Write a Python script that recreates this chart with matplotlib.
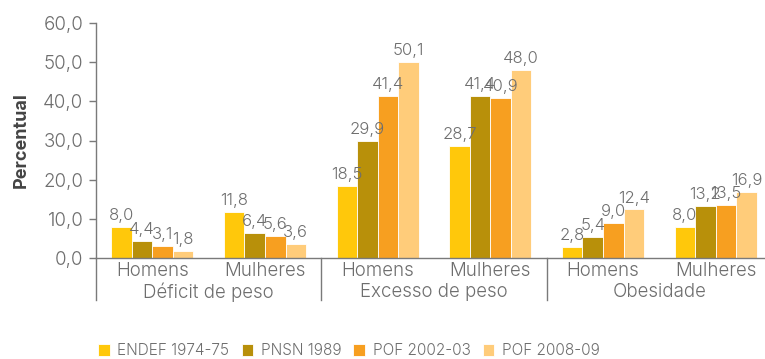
import matplotlib.pyplot as plt
import numpy as np

plt.rcParams['font.family'] = ['Inter', 'DejaVu Sans']
plt.rcParams['font.weight'] = 300

# Estado nutricional por sexo e pesquisa
indicadores = ['Déficit de peso', 'Excesso de peso', 'Obesidade']
sexos = ['Homens', 'Mulheres']
pesquisas = ['ENDEF 1974-75', 'PNSN 1989', 'POF 2002-03', 'POF 2008-09']
endef = [8.0, 11.8, 18.5, 28.7, 2.8, 8.0]
pnsn = [4.4, 6.4, 29.9, 41.4, 5.4, 13.2]
pof_2002 = [3.1, 5.6, 41.4, 40.9, 9.0, 13.5]
pof_2008 = [1.8, 3.6, 50.1, 48.0, 12.4, 16.9]
cores = ['#FFC80B', '#B8900A', '#F79F20', '#FFCC7A']

texto = '#6e6e6e'
linha = '#7a7a7a'

fig = plt.figure(figsize=(7.65, 3.59), dpi=100)
ax = fig.add_axes([96 / 765, 101 / 359, 676 / 765, 235 / 359])

x = np.arange(len(endef))
largura = 0.182
series = [endef, pnsn, pof_2002, pof_2008]
for i, (valores, cor, nome) in enumerate(zip(series, cores, pesquisas)):
    pos = x + (i - 1.5) * largura
    ax.bar(pos, valores, largura, color=cor, edgecolor='white', linewidth=0.6, label=nome)
    for px, v in zip(pos, valores):
        ax.text(px, v + 1.0, f'{v:.1f}'.replace('.', ','), ha='center', va='bottom',
                fontsize=12, color=texto)

ax.set_xlim(-0.5, 5.5)
ax.set_ylim(0, 60)
ax.set_yticks(np.arange(0, 61, 10))
ax.set_yticklabels([f'{v:.1f}'.replace('.', ',') for v in np.arange(0, 61, 10)])
ax.tick_params(axis='y', colors=linha, labelcolor=texto, labelsize=13.5, length=5, width=1,
               pad=4)
ax.set_xticks([])
ax.set_ylabel('Percentual', fontsize=13, fontweight='bold', color='#444444', labelpad=10)

for lado in ['top', 'right']:
    ax.spines[lado].set_visible(False)
ax.spines['left'].set_color(linha)
ax.spines['bottom'].set_color(linha)
ax.spines['left'].set_linewidth(1)
ax.spines['bottom'].set_linewidth(1)

# rótulos de sexo e de indicador abaixo do eixo
trans = ax.get_xaxis_transform()
for i in range(len(endef)):
    ax.text(x[i], -0.057, sexos[i % 2], transform=trans, ha='center', va='center',
            fontsize=13.5, color=texto)
for j, nome in enumerate(indicadores):
    ax.text(2 * j + 0.5, -0.145, nome, transform=trans, ha='center', va='center',
            fontsize=13.5, color=texto)
for sep in [-0.5, 1.5, 3.5]:
    ax.plot([sep, sep], [0, -0.18], transform=trans, color=linha, lw=1, clip_on=False)

ax.legend(loc='center left', bbox_to_anchor=(-0.008, -0.395), ncol=4, frameon=False,
          fontsize=11, handlelength=0.75, handleheight=0.75, handletextpad=0.5,
          columnspacing=0.8, labelcolor=texto, borderaxespad=0.1)

fig.savefig('out.png', dpi=100)
